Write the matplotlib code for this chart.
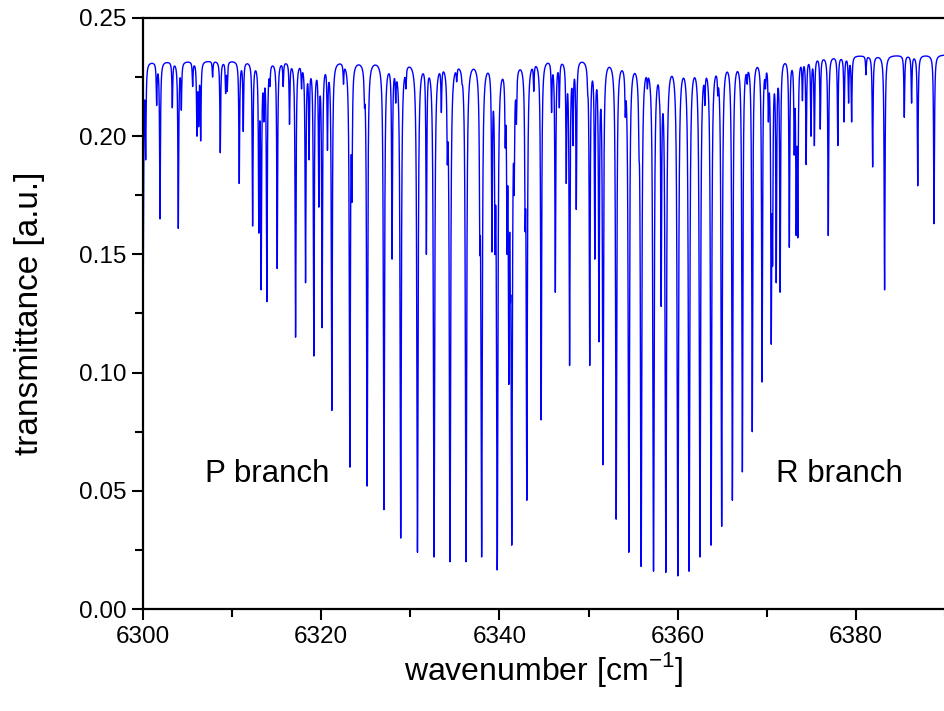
import numpy as np
import matplotlib
matplotlib.use('Agg')
import matplotlib.pyplot as plt
from matplotlib.ticker import MultipleLocator, FormatStrFormatter

plt.rcParams['font.family'] = 'Liberation Sans'
plt.rcParams['mathtext.fontset'] = 'custom'
plt.rcParams['mathtext.rm'] = 'Liberation Sans'

# absorption lines: centre [cm-1] and transmittance at the line centre
line_centers = [
    6300.02, 6300.30, 6301.53, 6301.91, 6303.29, 6303.96, 6304.30, 6305.57,
    6306.05, 6306.24, 6306.47, 6307.81, 6308.67, 6309.27, 6309.45, 6310.80,
    6311.25, 6312.30, 6313.00, 6313.26, 6313.56, 6313.90, 6314.24, 6315.06,
    6315.73, 6316.44, 6317.12, 6317.79, 6318.24, 6318.64, 6319.17, 6319.73,
    6320.10, 6320.70, 6321.19, 6322.50, 6323.21, 6323.45, 6324.85, 6325.15,
    6326.80, 6327.04, 6327.95, 6328.36, 6328.92, 6329.50, 6330.80, 6331.80,
    6332.66, 6333.48, 6334.15, 6334.45, 6335.20, 6335.80, 6336.25, 6337.58,
    6337.80, 6338.00, 6339.16, 6339.50, 6339.75, 6340.65, 6340.85, 6341.05,
    6341.22, 6341.38, 6341.65, 6341.90, 6342.88, 6343.07, 6343.85, 6344.68,
    6345.85, 6346.27, 6346.72, 6347.50, 6347.87, 6348.25, 6348.62, 6349.90,
    6350.13, 6350.70, 6351.17, 6351.62, 6353.10, 6354.12, 6354.52, 6355.66,
    6355.90, 6356.60, 6357.29, 6357.95, 6358.15, 6358.67, 6360.02, 6361.00,
    6361.28, 6362.50, 6363.05, 6363.75, 6364.50, 6364.94, 6366.14, 6367.26,
    6367.80, 6368.37, 6369.47, 6369.85, 6370.18, 6370.50, 6370.65, 6371.06,
    6371.50, 6372.53, 6373.08, 6373.30, 6373.48, 6374.00, 6374.42, 6374.96,
    6375.34, 6376.00, 6376.90, 6377.97, 6378.68, 6379.18, 6379.52, 6381.13,
    6381.88, 6383.22, 6385.43, 6386.25, 6386.94, 6388.77,
]
line_minima = [
    0.136, 0.190, 0.213, 0.165, 0.212, 0.161, 0.211, 0.221,
    0.200, 0.204, 0.198, 0.225, 0.193, 0.218, 0.219, 0.180,
    0.202, 0.162, 0.159, 0.135, 0.206, 0.130, 0.221, 0.144,
    0.221, 0.205, 0.115, 0.220, 0.138, 0.190, 0.107, 0.170,
    0.119, 0.194, 0.084, 0.222, 0.060, 0.172, 0.212, 0.052,
    0.216, 0.042, 0.148, 0.214, 0.030, 0.220, 0.024, 0.150,
    0.022, 0.210, 0.188, 0.020, 0.223, 0.222, 0.020, 0.221,
    0.150, 0.022, 0.151, 0.150, 0.0165, 0.195, 0.150, 0.095,
    0.130, 0.027, 0.175, 0.205, 0.160, 0.046, 0.219, 0.080,
    0.210, 0.134, 0.212, 0.180, 0.103, 0.196, 0.169, 0.218,
    0.103, 0.148, 0.113, 0.061, 0.038, 0.208, 0.024, 0.191,
    0.018, 0.220, 0.016, 0.215, 0.128, 0.0155, 0.014, 0.223,
    0.016, 0.022, 0.213, 0.027, 0.217, 0.035, 0.046, 0.058,
    0.222, 0.075, 0.096, 0.220, 0.206, 0.112, 0.145, 0.138,
    0.134, 0.153, 0.192, 0.158, 0.157, 0.215, 0.188, 0.200,
    0.196, 0.203, 0.158, 0.196, 0.206, 0.214, 0.206, 0.226,
    0.187, 0.135, 0.208, 0.214, 0.179, 0.163,
]

# continuum level
base_nu = [6300, 6345, 6390]
base_t = [0.2318, 0.2335, 0.2345]

gamma = 0.05  # Lorentz half width [cm-1]

c = np.array(line_centers)
tmin = np.array(line_minima)

# solve for line strengths so every line reaches its listed minimum
M = 1.0 / (1.0 + ((c[:, None] - c[None, :]) / gamma) ** 2)
b = np.log(np.interp(c, base_nu, base_t) / tmin)
amp = np.clip(np.linalg.solve(M, b), 0, None)

nu = np.arange(6299.5, 6390.5, 0.005)
absorb = np.zeros_like(nu)
for ci, ai in zip(c, amp):
    absorb += ai / (1.0 + ((nu - ci) / gamma) ** 2)
trans = np.interp(nu, base_nu, base_t) * np.exp(-absorb)

fig = plt.figure(figsize=(9.45, 7.11), dpi=100)
ax = fig.add_axes([143 / 945, 1 - 609 / 711, 802 / 945, 591 / 711])
ax.plot(nu, trans, color='#0000ff', lw=1.0)

ax.set_xlim(6300, 6390)
ax.set_ylim(0, 0.25)
ax.xaxis.set_major_locator(MultipleLocator(20))
ax.xaxis.set_minor_locator(MultipleLocator(10))
ax.yaxis.set_major_locator(MultipleLocator(0.05))
ax.yaxis.set_minor_locator(MultipleLocator(0.025))
ax.yaxis.set_major_formatter(FormatStrFormatter('%.2f'))
ax.tick_params(which='both', direction='out', width=1.5, labelsize=17.5, pad=4)
ax.tick_params(which='major', length=8)
ax.tick_params(which='minor', length=6)
for s in ['left', 'bottom', 'top']:
    ax.spines[s].set_linewidth(1.6)
ax.spines['right'].set_visible(False)

ax.set_xlabel(r'wavenumber [cm$^{\mathregular{-1}}$]', fontsize=23, va='center')
ax.set_ylabel('transmittance [a.u.]', fontsize=24, va='center')
ax.xaxis.set_label_coords(0.5, -0.103)
ax.yaxis.set_label_coords(-0.141, 0.5)

ax.text(6313.9, 0.0571, 'P branch', fontsize=22.5, ha='center', va='center')
ax.text(6378.2, 0.0571, 'R branch', fontsize=22.5, ha='center', va='center')

fig.savefig('out.png', dpi=100)
